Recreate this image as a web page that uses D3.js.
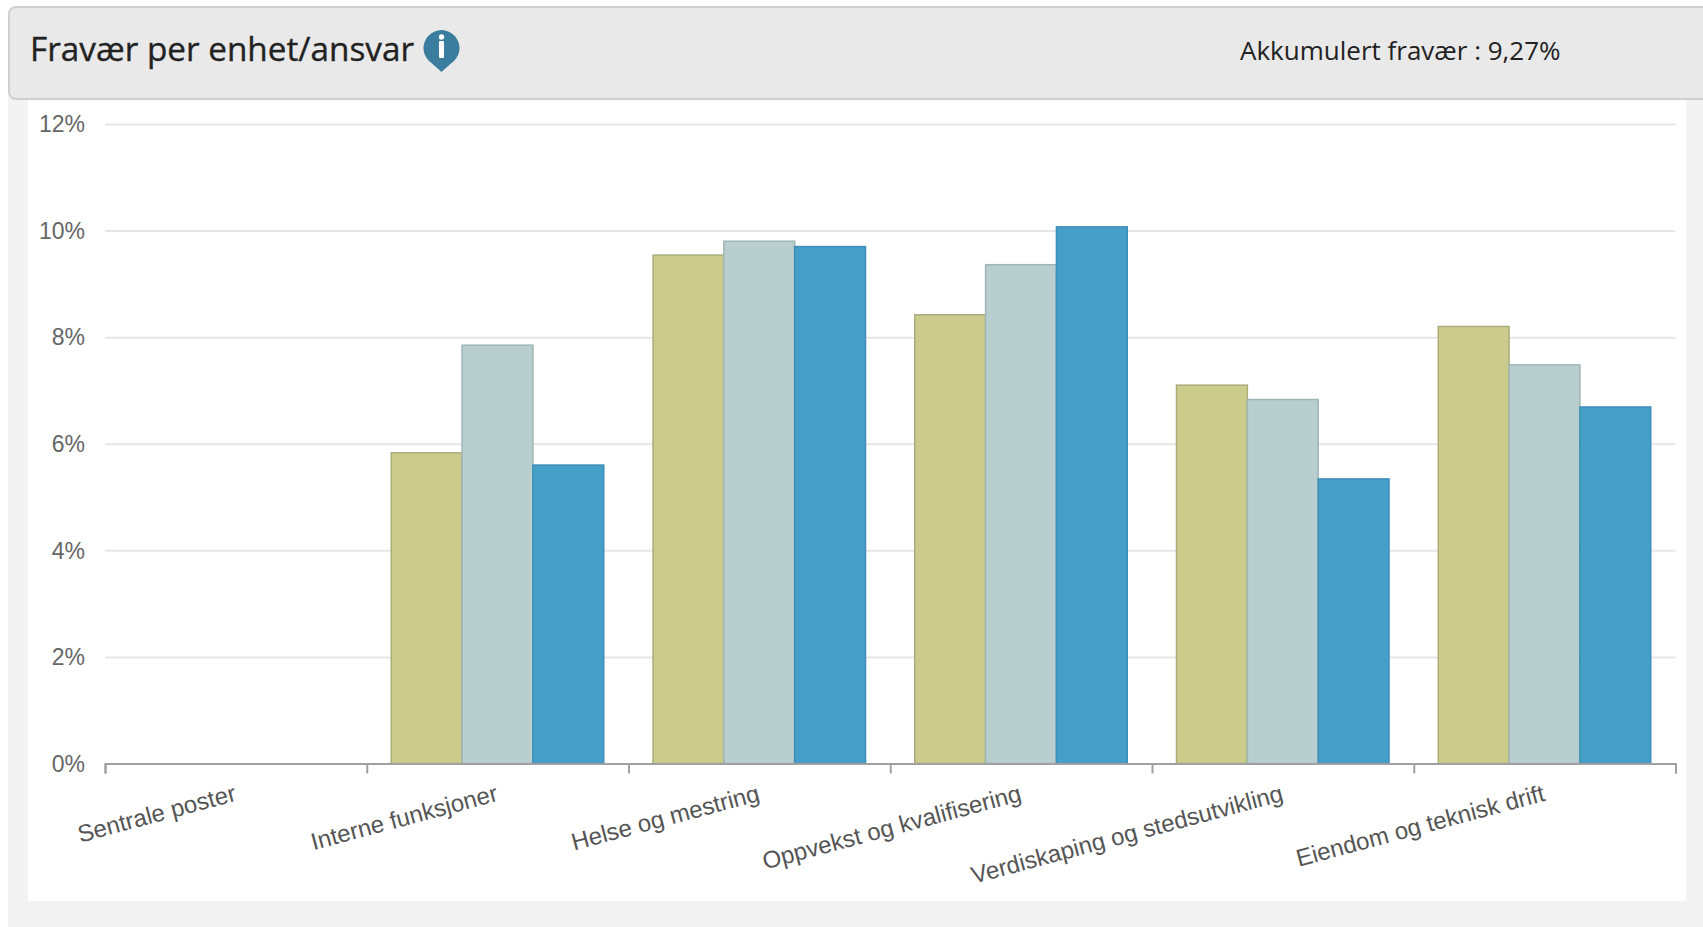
<!DOCTYPE html>
<html lang="no">
<head>
<meta charset="utf-8">
<title>Fravær per enhet/ansvar</title>
<script src="https://cdn.jsdelivr.net/npm/d3@7/dist/d3.min.js"></script>
<style>
  html, body { margin: 0; padding: 0; background: #fff; overflow: hidden; }
  svg { display: block; }
  .axis-y text { font-family: "Liberation Sans", Arial, sans-serif; fill: #666; }
  .axis-x text { font-family: "Liberation Sans", Arial, sans-serif; fill: #555; }
  .heading { font-family: "Open Sans", sans-serif; fill: #222; }
</style>
</head>
<body>
<svg id="chart" width="1703" height="927"></svg>
<script>
// Sickness absence per unit, three periods per category
const categories = ["Sentrale poster", "Interne funksjoner", "Helse og mestring", "Oppvekst og kvalifisering", "Verdiskaping og stedsutvikling", "Eiendom og teknisk drift"];
const periodA = [null, 5.83, 9.54, 8.42, 7.10, 8.20];
const periodB = [null, 7.85, 9.80, 9.36, 6.83, 7.48];
const periodC = [null, 5.60, 9.70, 10.07, 5.34, 6.69];
const yTicks = [0, 2, 4, 6, 8, 10, 12];
const chartTitle = "Fravær per enhet/ansvar";
const accumulated = "Akkumulert fravær : 9,27%";

const series = [
  { values: periodA, fill: "#cbcb8c", stroke: "#adad7c" },
  { values: periodB, fill: "#b9cece", stroke: "#a0b5b5" },
  { values: periodC, fill: "#459fc9", stroke: "#3d8fb6" }
];

const svg = d3.select("#chart");

// Page furniture: grey panel, white plot card, header bar
svg.append("rect").attr("x", 8).attr("y", 60).attr("width", 1695).attr("height", 867).attr("fill", "#f3f3f3");
svg.append("rect").attr("x", 28).attr("y", 99).attr("width", 1658).attr("height", 802).attr("fill", "#fff");
svg.append("rect").attr("x", 9).attr("y", 7).attr("width", 1700).attr("height", 92).attr("rx", 7)
  .attr("fill", "#e9e9e9").attr("stroke", "#cfcfcf").attr("stroke-width", 2);

svg.append("text").attr("class", "heading").attr("x", 30).attr("y", 61)
  .attr("font-size", 33.3).attr("stroke", "#222").attr("stroke-width", 0.35).text(chartTitle);
svg.append("text").attr("class", "heading").attr("x", 1240).attr("y", 60)
  .attr("font-size", 26).text(accumulated);

// Info marker: teardrop with a white "i"
const info = svg.append("g").attr("transform", "translate(441.5,48)");
info.append("path").attr("fill", "#3a7d9e")
  .attr("d", "M0,24 L-10,15 A18,18 0 1 1 10,15 Z");
info.append("rect").attr("x", -2.5).attr("y", -7).attr("width", 5).attr("height", 17).attr("rx", 1).attr("fill", "#fff");
info.append("circle").attr("cx", 0).attr("cy", -11).attr("r", 2.7).attr("fill", "#fff");

// Scales
const x0 = d3.scaleBand().domain(categories).range([105, 1675.5]);
const x1 = d3.scaleBand().domain(d3.range(series.length)).range([24.5, 237]);
const y = d3.scaleLinear().domain([0, 12]).range([763.5, 124]);

// Horizontal grid and y labels
const yAxis = svg.append("g").attr("class", "axis-y")
  .attr("transform", "translate(105,0)")
  .call(d3.axisLeft(y).tickValues(yTicks).tickFormat(d => d + "%").tickSize(-1570.5).tickPadding(20));
yAxis.select(".domain").remove();
yAxis.selectAll(".tick line").attr("stroke", "#e6e6e6").attr("stroke-width", 2);
yAxis.selectAll(".tick text").attr("font-size", 23).attr("dy", "0.34em");

// Bars
const groups = svg.append("g").selectAll("g").data(categories).join("g")
  .attr("transform", d => `translate(${x0(d)},0)`);
groups.each(function (cat, ci) {
  d3.select(this).selectAll("rect")
    .data(series.filter(s => s.values[ci] !== null).map((s, si) => ({ s, si, v: s.values[ci] })))
    .join("rect")
    .attr("x", d => x1(d.si))
    .attr("y", d => y(d.v))
    .attr("width", x1.bandwidth())
    .attr("height", d => y(0) - y(d.v))
    .attr("fill", d => d.s.fill)
    .attr("stroke", d => d.s.stroke)
    .attr("stroke-width", 1.5);
});

// Category axis with ticks at band edges and slanted labels
const xEdge = d3.scaleLinear().domain([0, categories.length]).range([105, 1675.5]);
const xAxis = svg.append("g").attr("class", "axis-x").attr("transform", "translate(0,763.5)")
  .call(d3.axisBottom(xEdge).tickValues(d3.range(categories.length + 1)).tickSize(10).tickSizeOuter(10).tickFormat(""));
xAxis.select(".domain").attr("stroke", "#a0a0a0").attr("stroke-width", 2);
xAxis.selectAll(".tick line").attr("stroke", "#a0a0a0").attr("stroke-width", 2);

svg.append("g").attr("class", "axis-x").selectAll("text").data(categories).join("text")
  .attr("text-anchor", "end")
  .attr("font-size", 24)
  .attr("transform", d => `translate(${x0(d) + x0.bandwidth() / 2 + 1.5},800.5) rotate(-15)`)
  .text(d => d);
</script>
</body>
</html>
